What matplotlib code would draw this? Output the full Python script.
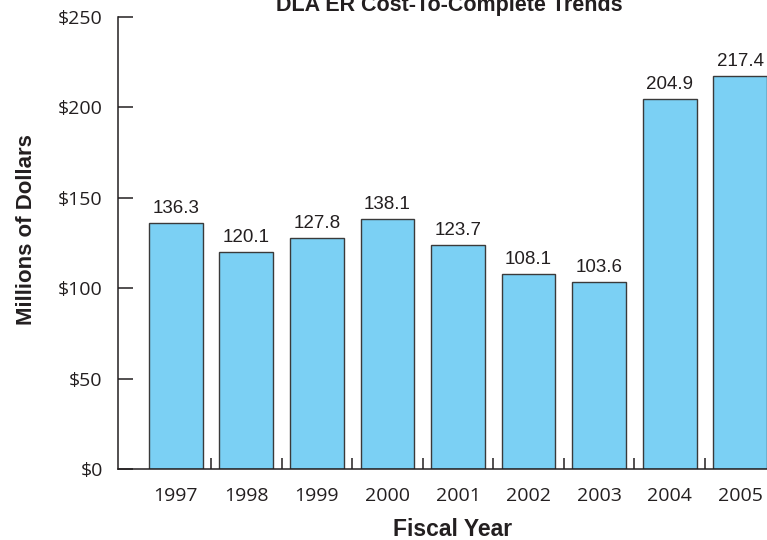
import numpy as np
import matplotlib.pyplot as plt
from matplotlib.ticker import FuncFormatter, FixedLocator

# data
years = ['1997', '1998', '1999', '2000', '2001', '2002', '2003', '2004', '2005']
costs = [136.3, 120.1, 127.8, 138.1, 123.7, 108.1, 103.6, 204.9, 217.4]
y_ticks = [0, 50, 100, 150, 200, 250]

fig = plt.figure(figsize=(7.67, 5.40), dpi=100)
ax = fig.add_axes([118 / 767, 1 - 469 / 540, 1 - 118 / 767, (469 - 17) / 540])

x = np.arange(len(years))
bars = ax.bar(x, costs, width=0.76, color='#7bd0f4', edgecolor='#3a3a3a',
              linewidth=1.0, zorder=2)

for xi, v in zip(x, costs):
    ax.text(xi, v + 3.3, f'{v:.1f}', ha='center', va='bottom',
            fontsize=13.5, family='Liberation Sans', color='#231f20')

ax.set_xlim(-0.818, len(years) - 1 + 0.379)
ax.set_ylim(0, 250)

ax.set_yticks(y_ticks)
ax.yaxis.set_major_formatter(FuncFormatter(lambda v, p: f'${v:.0f}'))
ax.set_xticks(x)
ax.set_xticklabels(years)
ax.xaxis.set_minor_locator(FixedLocator(x[:-1] + 0.5))

ax.tick_params(axis='y', direction='in', length=11, width=1.1, pad=11,
               labelsize=14, colors='#231f20')
ax.tick_params(axis='x', which='major', length=0, pad=13, labelsize=14,
               colors='#231f20')
ax.tick_params(axis='x', which='minor', direction='in', length=8, width=1.1,
               color='#231f20')
for lbl in ax.get_xticklabels() + ax.get_yticklabels():
    lbl.set_family('Open Sans')

for s in ['top', 'right']:
    ax.spines[s].set_visible(False)
for s in ['left', 'bottom']:
    ax.spines[s].set_linewidth(1.1)
    ax.spines[s].set_color('#231f20')

fig.text(449.5 / 767, 1 - 11 / 540, 'DLA ER Cost-To-Complete Trends',
         ha='center', va='baseline', fontsize=15.5, fontweight='bold',
         family='Liberation Sans', color='#231f20')
fig.text(27 / 767, 1 - 230 / 540, 'Millions of Dollars', rotation=90,
         ha='center', va='center', fontsize=16, fontweight='bold',
         family='Liberation Sans', color='#231f20')
fig.text(453 / 767, 1 - 529 / 540, 'Fiscal Year', ha='center', va='center',
         fontsize=16.5, fontweight='bold', family='Liberation Sans',
         color='#231f20')

fig.savefig('out.png', dpi=100)
